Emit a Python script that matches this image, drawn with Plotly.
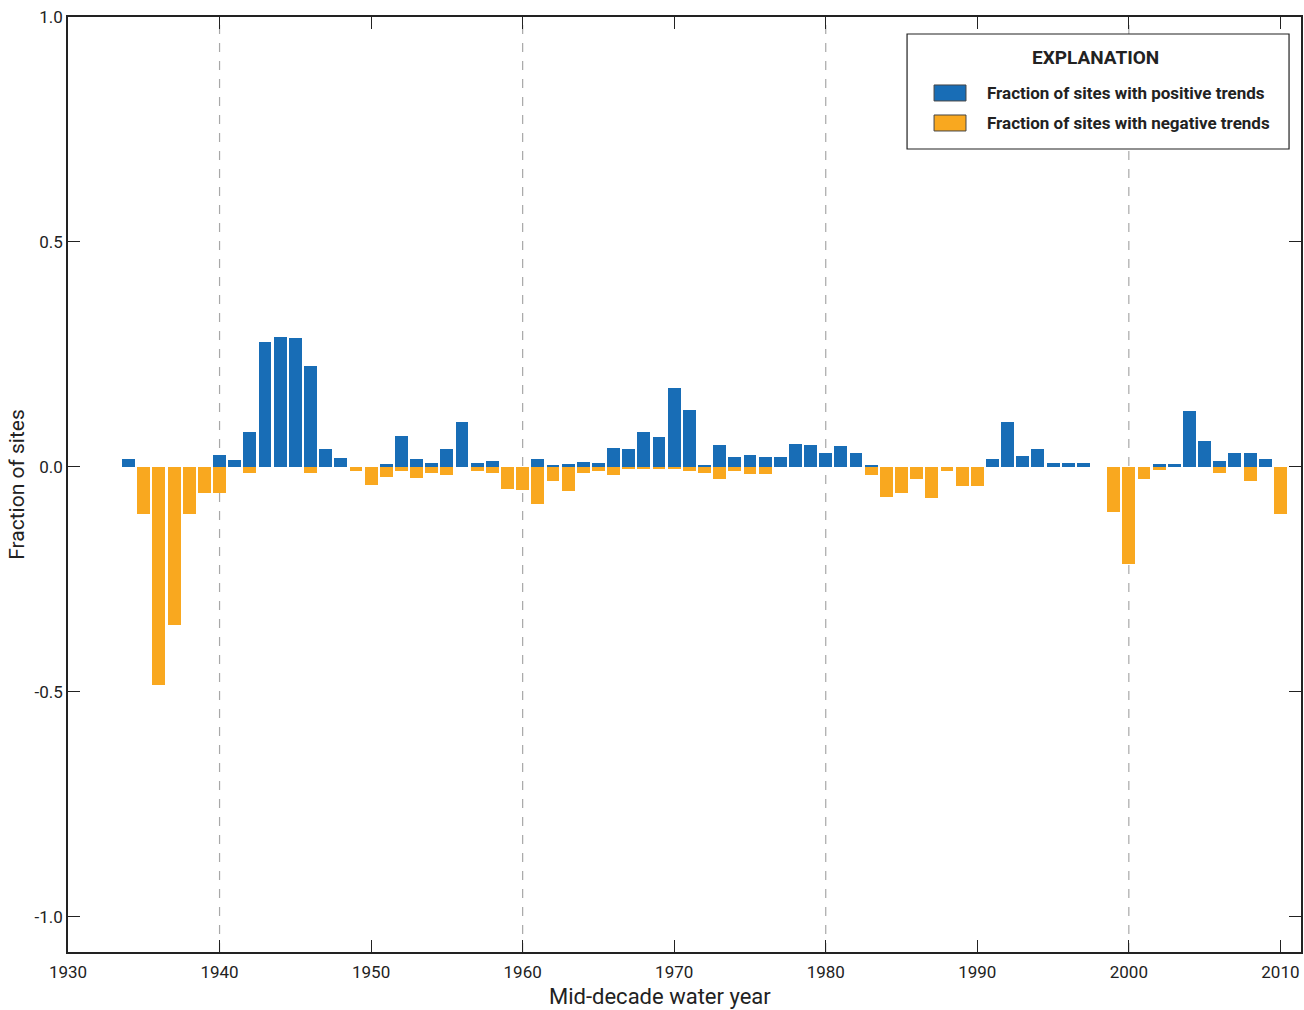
import plotly.graph_objects as go

years = list(range(1934, 2011))

# fraction of sites with positive trends, by mid-decade water year
pos_frac = [0.017, 0, 0, 0, 0, 0, 0.026, 0.015, 0.077, 0.277,
            0.288, 0.286, 0.224, 0.041, 0.021, 0, 0, 0.006, 0.068, 0.017,
            0.008, 0.039, 0.101, 0.008, 0.014, 0, 0, 0.017, 0.004, 0.006,
            0.012, 0.008, 0.042, 0.040, 0.078, 0.066, 0.175, 0.126, 0.004, 0.048,
            0.023, 0.026, 0.022, 0.022, 0.052, 0.048, 0.030, 0.047, 0.030, 0.005,
            0, 0, 0, 0, 0, 0, 0, 0.017, 0.101, 0.025,
            0.041, 0.008, 0.008, 0.008, 0, 0, 0, 0, 0.006, 0.006,
            0.124, 0.057, 0.013, 0.032, 0.032, 0.017, 0]

# fraction of sites with negative trends (plotted below zero)
neg_frac = [0, -0.105, -0.484, -0.352, -0.105, -0.057, -0.057, 0, -0.014, 0,
            0, 0, -0.014, 0, 0, -0.010, -0.039, -0.023, -0.008, -0.025,
            -0.014, -0.017, 0, -0.010, -0.014, -0.048, -0.052, -0.083, -0.032, -0.054,
            -0.014, -0.009, -0.017, -0.005, -0.005, -0.005, -0.005, -0.009, -0.014, -0.027,
            -0.009, -0.016, -0.016, 0, 0, 0, 0, 0, 0, -0.017,
            -0.066, -0.057, -0.026, -0.070, -0.010, -0.043, -0.043, 0, 0, 0,
            0, 0, 0, 0, 0, -0.099, -0.216, -0.027, -0.007, 0,
            0, 0, -0.014, 0, -0.032, 0, -0.105]

decade_lines = [1940, 1960, 1980, 2000]
x_ticks = [1930, 1940, 1950, 1960, 1970, 1980, 1990, 2000, 2010]
y_ticks = [-1.0, -0.5, 0.0, 0.5, 1.0]
y_labels = ["-1.0", "-0.5", "0.0", "0.5", "1.0"]

BLUE = "#186db6"
ORANGE = "#f9a81f"
FONT = "Roboto, Arial, sans-serif"

fig = go.Figure()
fig.add_trace(go.Bar(x=years, y=pos_frac, marker_color=BLUE, width=0.85,
                     marker_line_width=0, name="Fraction of sites with positive trends"))
fig.add_trace(go.Bar(x=years, y=neg_frac, marker_color=ORANGE, width=0.85,
                     marker_line_width=0, name="Fraction of sites with negative trends"))

for yr in decade_lines:
    fig.add_vline(x=yr, line=dict(color="#a8a8a8", width=1.2, dash="dash"), layer="below")

# hand-made legend box ("EXPLANATION")
fig.add_shape(type="rect", xref="paper", yref="paper", x0=0.6805, x1=0.9903, y0=0.8588, y1=0.9818,
              line=dict(color="#222", width=1.2), fillcolor="white")
fig.add_annotation(xref="paper", yref="paper", x=0.833, y=0.9572, text="<b>EXPLANATION</b>",
                   showarrow=False, xanchor="center", yanchor="middle",
                   font=dict(family=FONT, size=19, color="#222"))
for (y0, y1, ty, col, lab) in [(0.9102, 0.9273, 0.9188, BLUE, "Fraction of sites with positive trends"),
                                (0.8781, 0.8952, 0.8867, ORANGE, "Fraction of sites with negative trends")]:
    fig.add_shape(type="rect", xref="paper", yref="paper", x0=0.7024, x1=0.7283, y0=y0, y1=y1,
                  line=dict(color="#444", width=1), fillcolor=col)
    fig.add_annotation(xref="paper", yref="paper", x=0.7437, y=ty, text="<b>" + lab + "</b>",
                       showarrow=False, xanchor="left", yanchor="middle",
                       font=dict(family=FONT, size=17, color="#222"))

# x-axis title sits a little left of the plot centre in the original
fig.add_annotation(xref="paper", yref="paper", x=0.48, y=-0.0481, text="Mid-decade water year",
                   showarrow=False, xanchor="center", yanchor="middle",
                   font=dict(family=FONT, size=22, color="#222"))

fig.update_layout(
    width=1304, height=1010,
    margin=dict(l=68, r=3, t=17, b=58),
    barmode="overlay",
    bargap=0,
    showlegend=False,
    plot_bgcolor="white",
    paper_bgcolor="white",
    font=dict(family=FONT, color="#222"),
)
fig.update_xaxes(range=[1930, 2011.36], tickvals=x_ticks, automargin=False,
                 ticks="inside", ticklen=12, tickcolor="#222", mirror="ticks",
                 showline=True, linecolor="#222", linewidth=1.5, showgrid=False, zeroline=False,
                 ticklabelstandoff=4, tickfont=dict(size=17))
fig.update_yaxes(range=[-1.078, 1.0], tickvals=y_ticks, ticktext=y_labels, automargin=False,
                 ticks="inside", ticklen=12, tickcolor="#222", mirror="ticks",
                 showline=True, linecolor="#222", linewidth=1.5, showgrid=False, zeroline=False,
                 tickfont=dict(size=17), title=dict(text="Fraction of sites", font=dict(size=21), standoff=4))

# page body has a default margin; remove it so the figure sits at the window origin
fig.write_html("out.html", config={"displayModeBar": False},
               post_script="document.body.style.margin='0';")
